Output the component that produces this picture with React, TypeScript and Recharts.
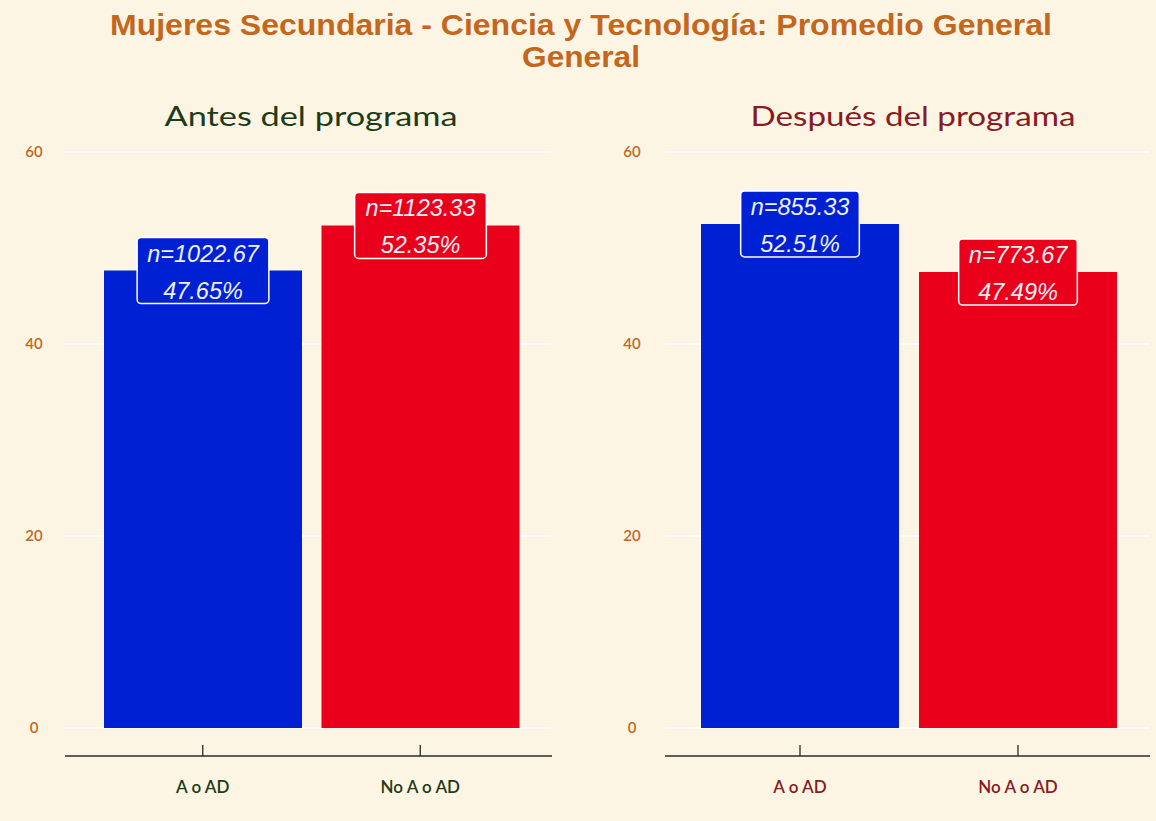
import React from 'react';
import { BarChart, Bar, XAxis, YAxis, CartesianGrid, LabelList, Cell } from 'recharts';

const categories = ['A o AD', 'No A o AD'];
const antesPct = [47.65, 52.35];
const antesN = [1022.67, 1123.33];
const despuesPct = [52.51, 47.49];
const despuesN = [855.33, 773.67];
const yTicks = [0, 20, 40, 60];

const titleLine1 = 'Mujeres Secundaria - Ciencia y Tecnología: Promedio General';
const titleLine2 = 'General';
const subtitleAntes = 'Antes del programa';
const subtitleDespues = 'Después del programa';

const BG = '#fdf5e3';
const BLUE = '#0021d3';
const RED = '#eb001b';
const barColors = [BLUE, RED];
const TITLE_COLOR = '#c4661d';
const GREEN = '#1d3b18';
const DARKRED = '#8a1a22';

const charW: Record<string, number> = {
  n: 0.556, '=': 0.584, '.': 0.278, '%': 0.889,
};
const textWidth = (s: string, fs: number) =>
  s.split('').reduce((a, c) => a + (charW[c] ?? 0.556), 0) * fs;

const LABEL_FS = 23.5;

function makeLabel(nVals: number[], colors: string[]) {
  return (props: any) => {
    const { x, y, width, index, value } = props;
    const cx = Number(x) + Number(width) / 2;
    const cy = Number(y);
    const l1 = `n=${nVals[index].toFixed(2)}`;
    const l2 = `${Number(value).toFixed(2)}%`;
    const w = Math.max(textWidth(l1, LABEL_FS), textWidth(l2, LABEL_FS)) + 20;
    const h = 66;
    return (
      <g>
        <rect x={cx - w / 2} y={cy - h / 2} width={w} height={h} rx={4} ry={4}
          fill={colors[index]} stroke="#ffffff" strokeWidth={1.5} />
        <text x={cx} y={cy - 9} textAnchor="middle" fill="#eef0f8" fontSize={LABEL_FS}
          fontStyle="italic" fontFamily="Liberation Sans, Arial, sans-serif">{l1}</text>
        <text x={cx} y={cy + 28} textAnchor="middle" fill="#eef0f8" fontSize={LABEL_FS}
          fontStyle="italic" fontFamily="Liberation Sans, Arial, sans-serif">{l2}</text>
      </g>
    );
  };
}

type PanelProps = {
  pct: number[];
  nVals: number[];
  left: number;
  width: number;
  yAxisWidth: number;
  rightMargin: number;
  padL: number;
  padR: number;
  tickX: number;
  labelColor: string;
};

function Panel(p: PanelProps) {
  const data = categories.map((c, i) => ({ cat: c, value: p.pct[i] }));
  const YTick = (props: any) => (
    <text x={p.tickX} y={props.y} dy={5} textAnchor="middle" fill={TITLE_COLOR}
      fontSize={15} fontWeight={600} fontFamily="Lato, sans-serif">{props.payload.value}</text>
  );
  const XTick = (props: any) => (
    <g>
      <line x1={props.x} x2={props.x} y1={props.y - 11} y2={props.y} stroke="#2a2a2a" strokeWidth={1.3} />
      <text x={props.x} y={props.y + 37} textAnchor="middle" fill={p.labelColor}
        fontSize={17} fontWeight={600} fontFamily="Lato, sans-serif">{props.payload.value}</text>
    </g>
  );
  return (
    <div style={{ position: 'absolute', left: p.left, top: 0 }}>
      <BarChart width={p.width} height={821} data={data}
        margin={{ top: 140, right: p.rightMargin, bottom: 25, left: 0 }}
        barCategoryGap={10}>
        <CartesianGrid vertical={false} stroke="#ffffff" strokeWidth={1.6} horizontalValues={yTicks} />
        <YAxis type="number" domain={[-2.917, 61.25]} ticks={yTicks} allowDataOverflow
          width={p.yAxisWidth} axisLine={false} tickLine={false} tick={YTick} />
        <XAxis dataKey="cat" height={40} padding={{ left: p.padL, right: p.padR }}
          axisLine={{ stroke: '#2a2a2a', strokeWidth: 1.3 }} tickLine={false}
          tickSize={0} tickMargin={0} tick={XTick} interval={0} />
        <Bar dataKey="value" isAnimationActive={false}>
          {data.map((d, i) => <Cell key={d.cat} fill={barColors[i]} />)}
          <LabelList dataKey="value" content={makeLabel(p.nVals, barColors)} />
        </Bar>
      </BarChart>
    </div>
  );
}

export default function App() {
  return (
    <div style={{ position: 'absolute', left: 0, top: 0, width: 1156, height: 821, background: BG, overflow: 'hidden' }}>
      <Panel pct={antesPct} nVals={antesN} left={0} width={580} yAxisWidth={65}
        rightMargin={28} padL={29} padR={23} tickX={34} labelColor={GREEN} />
      <Panel pct={despuesPct} nVals={despuesN} left={580} width={576} yAxisWidth={85}
        rightMargin={6} padL={26} padR={23} tickX={52} labelColor={DARKRED} />
      <svg width={1156} height={140} style={{ position: 'absolute', left: 0, top: 0 }}>
        <text x={581} y={35} textAnchor="middle" fill={TITLE_COLOR} fontSize={30} fontWeight="bold"
          fontFamily="Liberation Sans, Arial, sans-serif" textLength={942} lengthAdjust="spacingAndGlyphs">{titleLine1}</text>
        <text x={581} y={67} textAnchor="middle" fill={TITLE_COLOR} fontSize={30} fontWeight="bold"
          fontFamily="Liberation Sans, Arial, sans-serif" textLength={118} lengthAdjust="spacingAndGlyphs">{titleLine2}</text>
        <text x={311} y={126} textAnchor="middle" fill={GREEN} fontSize={26}
          fontFamily="Lato, sans-serif" textLength={293} lengthAdjust="spacingAndGlyphs">{subtitleAntes}</text>
        <text x={913} y={126} textAnchor="middle" fill={DARKRED} fontSize={26}
          fontFamily="Lato, sans-serif" textLength={325} lengthAdjust="spacingAndGlyphs">{subtitleDespues}</text>
      </svg>
    </div>
  );
}
